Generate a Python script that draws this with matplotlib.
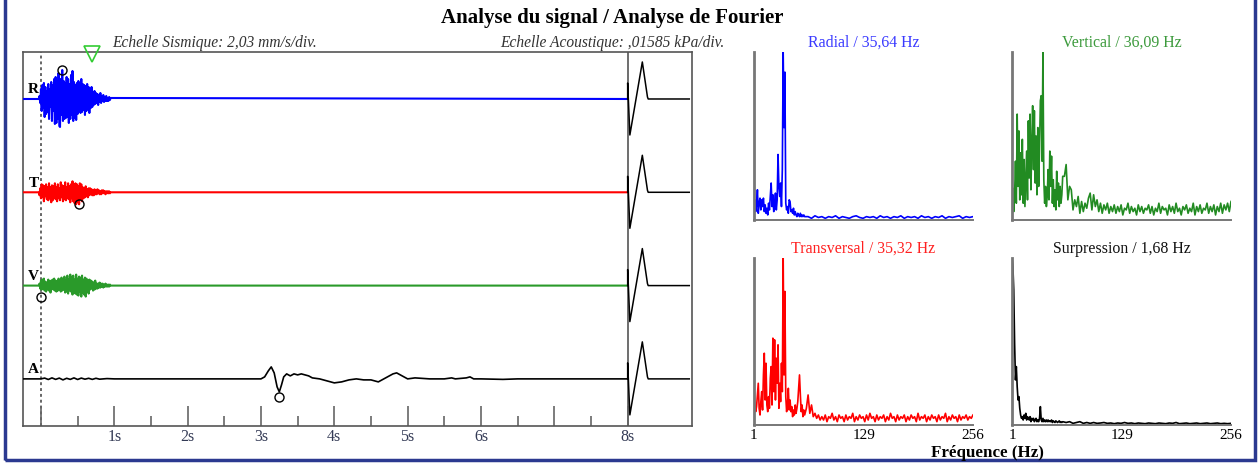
import numpy as np
import matplotlib.pyplot as plt
from matplotlib.patches import Rectangle

plt.rcParams['font.family'] = ['Liberation Serif', 'DejaVu Serif']

# ---- seismic traces (amplitude in screen units, 0.01 s samples for the burst) ----
burst_t = np.round(np.arange(-0.03, 0.955, 0.01), 2)

radial = [0, 3, -4,
          10, -12, 14, -9, 16, -18, 12, -15, 8, -13,
          15, -20, 10, -8, 17, -22, 14, -12, 20, -25,
          22, -24, 18, -20, 26, -27, -28, 20, -16, 29,
          -22, 18, -20, 16, -19, 22, -18, 20, -24, 15,
          -20, 24, -16, 28, -22, 17, -19, 14, -21, 16,
          -15, 18, -12, 16, -14, 20, -13, 15, -11, 14,
          -16, 13, -12, 15, -10, 12, -14, 10, -9, 12,
          -8, 7, -6, 8, -5, 6, -4, 5, -6, 4,
          -3, 6, -4, 3, -2, 4, -3, 2, -2, 3,
          -2, 1, -2, 2, -1, 1]

transversal = [0, -3, 4,
               -6, 8, -5, 7, -9, 6, -4, 8, -7, 5,
               -8, 9, -6, 5, -10, 7, -8, 6, -5, 9,
               -7, 5, -9, 8, -6, 4, -8, 10, -5, 7,
               -9, 6, -7, 10, -8, 5, -6, 9, -7, 6,
               -10, 8, -6, 11, -9, 7, -11, 9, -12, 8,
               -10, 6, -12, 9, -7, 8, -9, 5, -6, 4,
               -5, 6, -4, 3, -5, 4, -3, 4, -2, 3,
               -3, 2, -3, 3, -2, 2, -2, 3, -1, 2,
               -2, 1, -2, 2, -1, 2, -1, 1, -2, 1,
               -1, 1, -1, 1, -1, 0]

vertical = [0, 2, -3,
            5, -4, 6, -3, 7, -5, 4, -6, 3, -4,
            6, -5, 4, -7, 5, -3, 6, -4, 7, -5,
            5, -6, 4, -5, 7, -4, 5, -6, 8, -5,
            6, -4, 9, -7, 5, -6, 10, -8, 6, -5,
            11, -6, 8, -9, 10, -7, 6, -8, 11, -9,
            7, -10, 9, -6, 8, -11, 10, -7, 6, -9,
            8, -11, 7, -6, 5, -8, 6, -4, 5, -3,
            4, -5, 3, -4, 5, -3, 2, -3, 2, -2,
            3, -2, 2, -1, 2, -2, 1, -1, 2, -1,
            1, -1, 1, -1, 1, 0]

acoustic_t = [-0.25, 0.0, 0.05, 0.1, 0.15, 0.2, 0.25, 0.3, 0.35, 0.4,
              0.45, 0.5, 0.55, 0.6, 0.65, 0.7, 0.75, 0.8, 0.9, 1.0,
              3.0, 3.05, 3.1, 3.14, 3.18, 3.22, 3.25, 3.28, 3.31, 3.35,
              3.4, 3.45, 3.5, 3.55, 3.6, 3.65, 3.7, 3.8, 3.9, 4.0,
              4.1, 4.2, 4.3, 4.4, 4.5, 4.6, 4.7, 4.8, 4.85, 4.9,
              5.0, 5.1, 5.3, 5.5, 5.6, 5.65, 5.8, 5.85, 5.9, 6.0,
              6.3, 6.5, 6.7, 7.0, 7.5, 8.0]
acoustic = [0, 0, 0.8, -0.6, 1, -0.5, 0.8, -1, 0.6, -0.5,
            1, -0.6, 0.8, -0.3, 0.6, -0.5, 0.6, -0.3, 0.3, 0,
            0, 2, 8, 12, 6, -8, -13, -6, 2, 5,
            3, 5, 4, 5, 4, 3, 1, 0, -2, -4,
            -3, -1, 0, -1, -1, -3, 1, 5, 6, 4,
            0, 1, 0, 0, 1, 0, 1, 2, 0, 0,
            -0.5, 0, 0, 0, 0, 0]

# calibration pulse drawn after 8 s
pulse_t = [8.0, 8.0, 8.03, 8.2, 8.27, 8.28, 8.84]
pulse_v = [0, 16, -36, 37, 2, 0, 0]

# picked points (time, amplitude) per trace
picks = {'R': (0.29, 29), 'T': (0.52, -12), 'V': (0.0, -11), 'A': (3.25, -18)}
trigger_t = 0.70

trace_names = ['R', 'T', 'V', 'A']
trace_colors = ['#0000ff', '#ff0000', '#2a9a2a', '#000000']
time_ticks = [0, 1, 2, 3, 4, 5, 6, 7, 8]
time_labels = ['', '1s', '2s', '3s', '4s', '5s', '6s', '', '8s']

# ---- Fourier spectra (normalised) ----
freq = np.concatenate([np.arange(1, 61), np.arange(64, 257, 4)])
freq_fine = np.concatenate([np.arange(1, 61), np.arange(62, 257, 2)])

spec_radial = [0.07, 0.12, 0.05, 0.09, 0.18, 0.04, 0.10, 0.13, 0.06, 0.12,
               0.08, 0.13, 0.05, 0.09, 0.04, 0.07, 0.03, 0.10, 0.06, 0.14,
               0.22, 0.08, 0.15, 0.05, 0.10, 0.16, 0.06, 0.12, 0.39, 0.20,
               0.14, 0.22, 0.08, 0.30, 1.00, 0.55, 0.88, 0.10, 0.06, 0.08,
               0.04, 0.12, 0.11, 0.05, 0.06, 0.04, 0.07, 0.03, 0.05, 0.03,
               0.02, 0.04, 0.03, 0.02, 0.04, 0.02, 0.03, 0.02, 0.03, 0.02,
               0.02, 0.01, 0.025, 0.015, 0.02, 0.01, 0.02, 0.015, 0.025, 0.01,
               0.02, 0.015, 0.01, 0.02, 0.025, 0.015, 0.01, 0.02, 0.015, 0.02,
               0.01, 0.025, 0.015, 0.02, 0.01, 0.02, 0.015, 0.025, 0.01, 0.02,
               0.015, 0.02, 0.01, 0.025, 0.015, 0.02, 0.01, 0.02, 0.015, 0.025,
               0.01, 0.02, 0.015, 0.02, 0.025, 0.01, 0.02, 0.015, 0.02]

spec_vertical = [0.08, 0.19, 0.05, 0.15, 0.35, 0.10, 0.63, 0.20, 0.53, 0.12,
                 0.40, 0.15, 0.48, 0.10, 0.36, 0.08, 0.24, 0.41, 0.12, 0.59,
                 0.25, 0.63, 0.18, 0.45, 0.68, 0.30, 0.65, 0.22, 0.50, 0.15,
                 0.55, 0.20, 0.42, 0.71, 0.74, 0.35, 1.00, 0.24, 0.10, 0.20,
                 0.08, 0.14, 0.30, 0.12, 0.41, 0.20, 0.38, 0.10, 0.24, 0.08,
                 0.18, 0.06, 0.29, 0.12, 0.22, 0.08, 0.20, 0.10, 0.15, 0.26,
                 0.26, 0.33, 0.12, 0.20, 0.18, 0.06, 0.12, 0.08, 0.14, 0.04,
                 0.11, 0.05, 0.10, 0.07, 0.13, 0.16, 0.06, 0.15, 0.08, 0.12,
                 0.05, 0.10, 0.04, 0.09, 0.06, 0.10, 0.04, 0.08, 0.05, 0.09,
                 0.04, 0.08, 0.05, 0.09, 0.03, 0.07, 0.06, 0.10, 0.04, 0.08,
                 0.05, 0.07, 0.03, 0.09, 0.05, 0.08, 0.04, 0.07, 0.06, 0.09,
                 0.04, 0.08, 0.03, 0.07, 0.05, 0.10, 0.04, 0.08, 0.06, 0.07,
                 0.03, 0.09, 0.05, 0.08, 0.04, 0.10, 0.05, 0.07, 0.03, 0.08,
                 0.06, 0.09, 0.04, 0.07, 0.05, 0.10, 0.03, 0.08, 0.05, 0.09,
                 0.04, 0.07, 0.06, 0.10, 0.04, 0.08, 0.05, 0.09, 0.03, 0.08,
                 0.05, 0.10, 0.04, 0.09, 0.06, 0.10, 0.05, 0.11]

spec_transversal = [0.22, 0.12, 0.08, 0.11, 0.18, 0.25, 0.10, 0.06, 0.14, 0.20,
                    0.09, 0.30, 0.43, 0.15, 0.37, 0.12, 0.08, 0.17, 0.10, 0.28,
                    0.35, 0.12, 0.52, 0.20, 0.51, 0.15, 0.40, 0.25, 0.48, 0.10,
                    0.25, 0.14, 0.37, 0.20, 1.00, 0.30, 0.80, 0.17, 0.08, 0.12,
                    0.22, 0.09, 0.15, 0.08, 0.11, 0.05, 0.09, 0.06, 0.12, 0.07,
                    0.10, 0.14, 0.22, 0.30, 0.18, 0.08, 0.12, 0.05, 0.09, 0.06,
                    0.10, 0.18, 0.07, 0.12, 0.05, 0.07, 0.04, 0.06, 0.03, 0.05,
                    0.03, 0.06, 0.02, 0.05, 0.04, 0.07, 0.03, 0.05, 0.02, 0.06,
                    0.04, 0.05, 0.02, 0.06, 0.03, 0.05, 0.04, 0.07, 0.02, 0.05,
                    0.03, 0.06, 0.04, 0.05, 0.02, 0.06, 0.03, 0.07, 0.04, 0.05,
                    0.02, 0.06, 0.03, 0.05, 0.04, 0.06, 0.02, 0.05, 0.03, 0.07,
                    0.04, 0.05, 0.02, 0.06, 0.03, 0.05, 0.04, 0.06, 0.02, 0.05,
                    0.03, 0.06, 0.04, 0.05, 0.02, 0.07, 0.03, 0.05, 0.04, 0.06,
                    0.02, 0.05, 0.03, 0.06, 0.04, 0.05, 0.02, 0.06, 0.03, 0.05,
                    0.04, 0.07, 0.02, 0.05, 0.03, 0.06, 0.04, 0.05, 0.02, 0.06,
                    0.03, 0.05, 0.04, 0.06, 0.03, 0.05, 0.04, 0.06]

spec_pressure = [1.00, 0.95, 0.81, 0.49, 0.27, 0.35, 0.23, 0.15, 0.17, 0.10,
                 0.06, 0.04, 0.05, 0.03, 0.06, 0.04, 0.07, 0.03, 0.05, 0.04,
                 0.03, 0.05, 0.02, 0.04, 0.03, 0.04, 0.02, 0.03, 0.04, 0.02,
                 0.03, 0.02, 0.04, 0.11, 0.03, 0.02, 0.04, 0.02, 0.03, 0.02,
                 0.03, 0.02, 0.03, 0.02, 0.025, 0.02, 0.03, 0.015, 0.025, 0.02,
                 0.015, 0.025, 0.02, 0.015, 0.02, 0.025, 0.015, 0.02, 0.015, 0.02,
                 0.015, 0.02, 0.01, 0.015, 0.02, 0.01, 0.015, 0.01, 0.015, 0.01,
                 0.012, 0.015, 0.01, 0.012, 0.008, 0.012, 0.01, 0.015, 0.01, 0.012,
                 0.008, 0.012, 0.01, 0.008, 0.012, 0.01, 0.008, 0.012, 0.01, 0.008,
                 0.012, 0.01, 0.015, 0.008, 0.01, 0.012, 0.008, 0.01, 0.012, 0.008,
                 0.01, 0.012, 0.008, 0.01, 0.012, 0.008, 0.01, 0.008, 0.01]

spec_titles = ['Radial / 35,64 Hz', 'Vertical / 36,09 Hz',
               'Transversal / 35,32 Hz', 'Surpression / 1,68 Hz']
spec_colors = ['#0000ff', '#228b22', '#ff0000', '#000000']
spec_title_colors = ['#3a3aff', '#3c9a3c', '#ff2020', '#111111']
freq_ticks = [1, 129, 256]

# ---------------------------------------------------------------------------
fig = plt.figure(figsize=(12.6, 4.65), dpi=100)

# outer frame
fig.patches.append(Rectangle((0.004, 0.0108), 0.992, 1.1, transform=fig.transFigure,
                             fill=False, edgecolor='#2b3990', lw=2.5))

fig.text(0.4857, 0.961, 'Analyse du signal / Analyse de Fourier',
         ha='center', va='center', fontsize=15, fontweight='bold')
fig.text(0.170, 0.9075, 'Echelle Sismique: 2,03 mm/s/div.', ha='center', va='center',
         fontsize=11.2, style='italic', color='#333333')
fig.text(0.5746, 0.9075, 'Echelle Acoustique: ,01585 kPa/div.', ha='right', va='center',
         fontsize=11.2, style='italic', color='#333333')

ax = fig.add_axes([0.01825, 0.0839, 0.531, 0.8043])
spacing = 93.3
ax.set_xlim(-0.245, 8.878)
ax.set_ylim(-327, 47)

for s in ax.spines.values():
    s.set_color('#555555')
    s.set_linewidth(1.2)

ax.axvline(0, color='#666666', ls=(0, (1.5, 1.5)), lw=1.4, zorder=1)
ax.axvline(8, color='#555555', lw=1.2, zorder=1)

series = [radial, transversal, vertical]
for i, name in enumerate(trace_names):
    off = -i * spacing
    if name == 'A':
        t = acoustic_t
        v = np.array(acoustic)
    else:
        t = np.concatenate([[-0.245], burst_t, [8.0]])
        v = np.concatenate([[0], series[i], [0]])
    ax.plot(t, v + off, color=trace_colors[i], lw=1.5 if name != 'A' else 1.2, zorder=3)
    ax.plot(pulse_t, np.array(pulse_v) + off, color='black', lw=1.1, zorder=3)
    pt, pv = picks[name]
    ax.plot(pt, pv + off, 'o', ms=6.5, mfc='none', mec='black', mew=1.0, zorder=4)
    ax.text(-0.1, off + 9, name, ha='center', va='center', fontsize=11,
            fontweight='bold', zorder=5)

ax.plot(trigger_t, 45, 'v', ms=11, mfc='none', mec='#33cc33', mew=1.2, clip_on=False, zorder=5)

ax.set_xticks(time_ticks)
ax.set_xticklabels(time_labels)
ax.set_xticks(np.arange(0.5, 8, 1.0), minor=True)
ax.tick_params(axis='x', which='major', direction='in', length=14.4, width=1.2,
               color='#666666', pad=2, labelsize=11.5, labelcolor='#333a55')
ax.tick_params(axis='x', which='minor', direction='in', length=7.2, width=1.2,
               color='#666666')
ax.set_yticks([])

# spectra panels
spec_data = [spec_radial, spec_vertical, spec_transversal, spec_pressure]
spec_freq = [freq, freq_fine, freq_fine, freq]
positions = [[0.5984, 0.5269, 0.1738, 0.3613],
             [0.8032, 0.5269, 0.1738, 0.3613],
             [0.5984, 0.0860, 0.1738, 0.3591],
             [0.8032, 0.0860, 0.1738, 0.3591]]
for k in range(4):
    sa = fig.add_axes(positions[k])
    sa.plot(spec_freq[k], spec_data[k], color=spec_colors[k], lw=1.2)
    sa.set_xlim(1, 256)
    sa.set_ylim(0, 1.0)
    sa.spines['top'].set_visible(False)
    sa.spines['right'].set_visible(False)
    sa.spines['left'].set_color('#777777')
    sa.spines['left'].set_linewidth(2)
    sa.spines['bottom'].set_color('#777777')
    sa.spines['bottom'].set_linewidth(1.4)
    sa.set_yticks([])
    sa.text(0.5, 1.0 + 9 / 168, spec_titles[k], transform=sa.transAxes,
            ha='center', va='center', fontsize=11.4, color=spec_title_colors[k])
    if k >= 2:
        sa.set_xticks(freq_ticks)
        sa.tick_params(axis='x', length=0, pad=3, labelsize=11)
    else:
        sa.set_xticks([])

fig.text(0.784, 0.0258, 'Fréquence (Hz)', ha='center', va='center',
         fontsize=12.2, fontweight='bold')

fig.savefig('out.png', dpi=100)
